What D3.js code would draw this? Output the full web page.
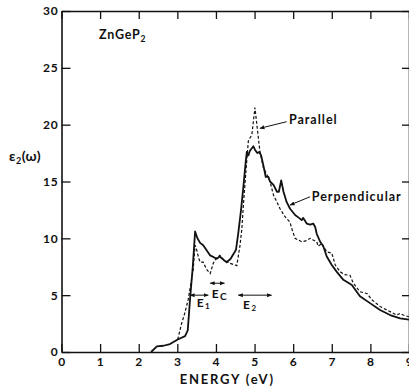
<!DOCTYPE html>
<html>
<head>
<meta charset="utf-8">
<script src="https://cdn.jsdelivr.net/npm/d3@7"></script>
<style>
  body { margin: 0; background: #fff; }
  svg text { font-family: Lato, 'DejaVu Sans', sans-serif; font-weight: bold; fill: #111; }
</style>
</head>
<body>
<script>
// ZnGeP2 imaginary dielectric function

var xTicks = [0, 1, 2, 3, 4, 5, 6, 7, 8, 9];
var yTicks = [0, 5, 10, 15, 20, 25, 30];

// perpendicular (solid)
var perpE = [2.32, 2.47, 2.64, 2.81, 3.01, 3.2, 3.27, 3.33, 3.4, 3.46, 3.52, 3.59, 3.67, 3.75, 3.85,
  4.02, 4.1, 4.2, 4.28, 4.38, 4.45, 4.52, 4.58, 4.65, 4.71, 4.77, 4.8, 4.84, 4.88, 4.97, 5.01,
  5.07, 5.12, 5.17, 5.23, 5.29, 5.36, 5.4, 5.49, 5.58, 5.63, 5.69, 5.75, 5.83, 5.92, 6.05, 6.15,
  6.22, 6.26, 6.35, 6.44, 6.52, 6.57, 6.61, 6.7, 6.78, 6.87, 7.0, 7.13, 7.3, 7.52, 7.73, 7.99,
  8.25, 8.51, 8.77, 9.0];
var perpV = [0, 0.5, 0.55, 0.7, 1.1, 1.4, 1.9, 4.7, 7.5, 10.6, 10.0, 9.6, 9.4, 9.0, 8.5,
  8.2, 8.4, 8.1, 7.9, 8.2, 8.6, 9.0, 10.5, 12.5, 14.5, 16.7, 17.6, 17.3, 17.7, 18.1, 17.8,
  17.5, 17.6, 17.3, 16.4, 15.4, 15.4, 15.0, 14.7, 14.1, 14.1, 15.1, 14.1, 13.2, 12.6, 12.05, 11.8,
  11.6, 11.8, 11.3, 11.2, 11.3, 11.0, 10.4, 9.7, 9.3, 8.4, 7.65, 7.05, 6.35, 5.9, 4.9, 4.3,
  3.7, 3.25, 2.95, 2.85];

// parallel (dashed)
var paraE = [3.01, 3.11, 3.2, 3.28, 3.35, 3.41, 3.46, 3.5, 3.55, 3.59, 3.67, 3.75, 3.85, 3.93, 4.0,
  4.1, 4.2, 4.37, 4.54, 4.62, 4.67, 4.71, 4.77, 4.84, 4.93, 5.01, 5.07, 5.14, 5.23, 5.32, 5.4,
  5.49, 5.58, 5.66, 5.79, 5.92, 5.96, 6.05, 6.22, 6.35, 6.44, 6.52, 6.61, 6.65, 6.74, 6.87, 7.0,
  7.09, 7.22, 7.34, 7.47, 7.56, 7.73, 7.91, 8.04, 8.25, 8.51, 8.68, 8.77, 8.85, 9.0];
var paraV = [1.1, 2.5, 3.5, 4.6, 6.0, 7.2, 9.4, 9.0, 8.3, 7.9, 7.9, 7.3, 6.9, 7.8, 8.2,
  8.5, 8.1, 7.8, 7.6, 9.3, 10.8, 12.9, 15.6, 18.6, 19.1, 21.5, 19.7, 17.6, 16.2, 15.6, 15.0,
  13.8, 13.2, 12.6, 11.9, 11.4, 10.9, 10.0, 9.7, 9.8, 10.0, 9.85, 9.7, 9.3, 9.55, 8.8, 8.7,
  7.65, 7.05, 6.8, 6.75, 6.05, 5.3, 5.15, 4.6, 4.0, 3.55, 3.25, 3.4, 3.25, 3.1];

var W = 409, H = 387;
var x = d3.scaleLinear().domain([0, 9]).range([61.5, 409]);
var y = d3.scaleLinear().domain([0, 30]).range([352, 11]);

var svg = d3.select('body').append('svg')
  .attr('width', W)
  .attr('height', H);

var defs = svg.append('defs');
defs.append('marker')
  .attr('id', 'head')
  .attr('viewBox', '0 0 10 10')
  .attr('refX', 9).attr('refY', 5)
  .attr('markerWidth', 5).attr('markerHeight', 5)
  .attr('markerUnits', 'userSpaceOnUse')
  .attr('orient', 'auto-start-reverse')
  .append('path').attr('d', 'M0,1L10,5L0,9Z').attr('fill', '#111');

// axes
var axLeft = svg.append('g').attr('transform', 'translate(' + x(0) + ',0)')
  .call(d3.axisLeft(y).tickValues(yTicks).tickSize(-9).tickSizeOuter(0).tickPadding(3));
var axBottom = svg.append('g').attr('transform', 'translate(0,' + y(0) + ')')
  .call(d3.axisBottom(x).tickValues(xTicks).tickSize(-8).tickSizeOuter(0).tickPadding(5));
var axTop = svg.append('g').attr('transform', 'translate(0,' + y(30) + ')')
  .call(d3.axisTop(x).tickValues(xTicks).tickSize(-8).tickSizeOuter(0).tickFormat(''));
var axRight = svg.append('g').attr('transform', 'translate(' + x(9) + ',0)')
  .call(d3.axisRight(y).tickValues(yTicks).tickSize(-7).tickSizeOuter(0).tickFormat(''));

[axLeft, axBottom, axTop, axRight].forEach(function(g) {
  g.selectAll('path.domain').attr('stroke', '#111').attr('stroke-width', 1.6);
  g.selectAll('.tick line').attr('stroke', '#111').attr('stroke-width', 1.3);
  g.selectAll('.tick text').attr('font-size', 12).attr('fill', '#111')
    .attr('letter-spacing', 0.8)
    .style('font-family', "Lato, 'DejaVu Sans', sans-serif").style('font-weight', 'bold');
});

// curves
var line = d3.line()
  .x(function(d) { return x(d[0]); })
  .y(function(d) { return y(d[1]); });

var perp = perpE.map(function(e, i) { return [e, perpV[i]]; });
var para = paraE.map(function(e, i) { return [e, paraV[i]]; });

svg.append('path').datum(para)
  .attr('d', line)
  .attr('fill', 'none')
  .attr('stroke', '#111')
  .attr('stroke-width', 1.2)
  .attr('stroke-dasharray', '3,2');

svg.append('path').datum(perp)
  .attr('d', line)
  .attr('fill', 'none')
  .attr('stroke', '#111')
  .attr('stroke-width', 1.8)
  .attr('stroke-linejoin', 'round');

// labels
svg.append('text').attr('x', x(0.97)).attr('y', y(27.5)).attr('font-size', 12.5)
  .attr('letter-spacing', 0.8)
  .text('ZnGeP').append('tspan').attr('font-size', 8.5).attr('dy', 3).text('2');

var yl = svg.append('text').attr('x', 9).attr('y', 161).attr('font-size', 14)
  .attr('letter-spacing', 0.5);
yl.append('tspan').text('\u03b5');
yl.append('tspan').attr('font-size', 9).attr('dy', 3).text('2');
yl.append('tspan').attr('dy', -3).text('(\u03c9)');

svg.append('text').attr('x', (x(0) + x(9)) / 2 - 8).attr('y', 384)
  .attr('text-anchor', 'middle').attr('font-size', 13).attr('letter-spacing', 1.8)
  .text('ENERGY (eV)');

// callouts
var callouts = [
  {label: 'Parallel', tx: 5.89, ty: 20.4, from: [5.83, 20.26], to: [5.14, 19.68]},
  {label: 'Perpendicular', tx: 6.48, ty: 13.66, from: [6.44, 13.66], to: [5.92, 12.93]}
];
callouts.forEach(function(c) {
  svg.append('line')
    .attr('x1', x(c.from[0])).attr('y1', y(c.from[1]))
    .attr('x2', x(c.to[0])).attr('y2', y(c.to[1]))
    .attr('stroke', '#111').attr('stroke-width', 1)
    .attr('marker-end', 'url(#head)');
  svg.append('text').attr('x', x(c.tx)).attr('y', y(c.ty)).attr('dy', '0.35em')
    .attr('font-size', 12.5).attr('letter-spacing', 1).text(c.label);
});

// transition energy markers
var marks = [
  {name: 'E', sub: '1', x0: 3.33, x1: 3.8, ya: 5.0, lx: 3.5, ly: 4.3},
  {name: 'E', sub: 'C', x0: 3.85, x1: 4.22, ya: 6.05, lx: 3.89, ly: 5.16},
  {name: 'E', sub: '2', x0: 4.58, x1: 5.44, ya: 5.0, lx: 4.7, ly: 4.13}
];
marks.forEach(function(m) {
  svg.append('line')
    .attr('x1', x(m.x0)).attr('y1', y(m.ya))
    .attr('x2', x(m.x1)).attr('y2', y(m.ya))
    .attr('stroke', '#111').attr('stroke-width', 1)
    .attr('marker-start', 'url(#head)')
    .attr('marker-end', 'url(#head)');
  var t = svg.append('text').attr('x', x(m.lx)).attr('y', y(m.ly)).attr('dy', '0.35em')
    .attr('font-size', 12);
  t.append('tspan').text(m.name);
  t.append('tspan').attr('font-size', m.sub === 'C' ? 10 : 8).attr('dy', 2).attr('dx', 1.5).text(m.sub);
});
</script>
</body>
</html>
